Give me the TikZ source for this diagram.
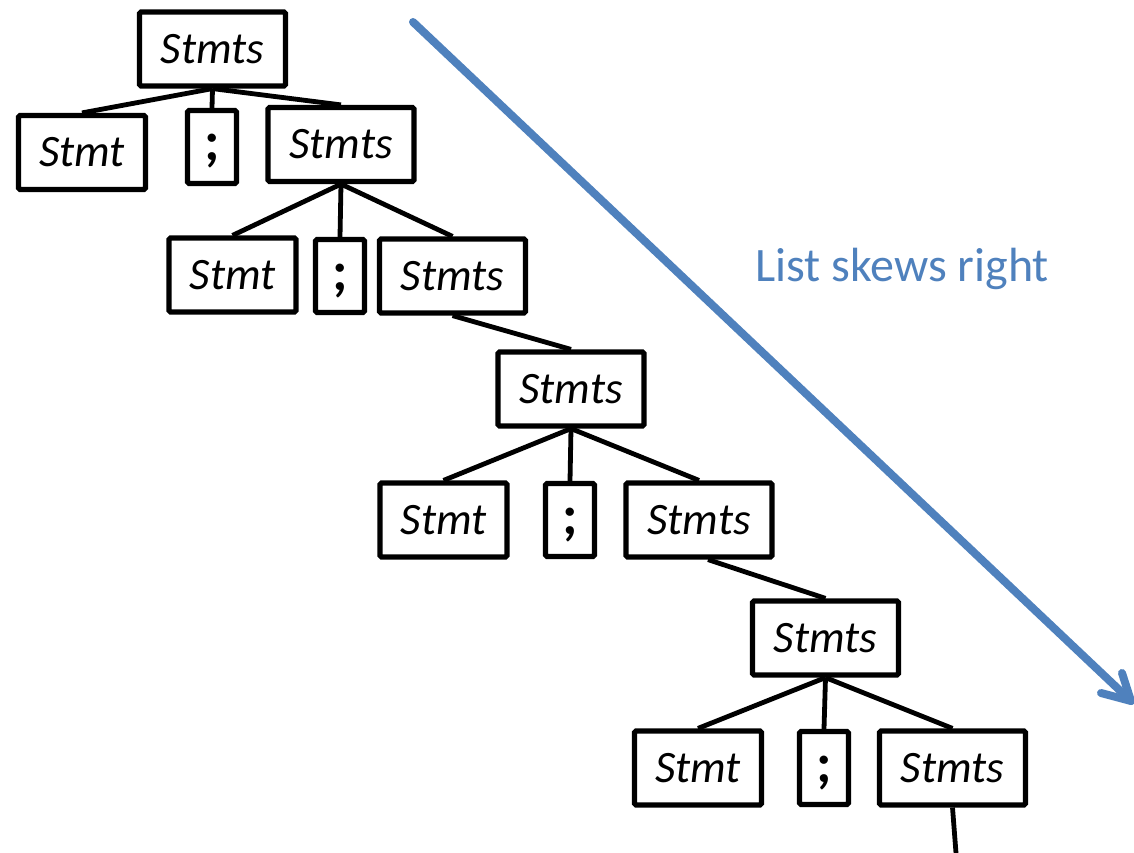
\documentclass[tikz,border=0pt]{standalone}
\usepackage{fontspec}
\setmainfont{Carlito}
\definecolor{skewblue}{HTML}{4F81BD}
\newcommand{\semi}{\raisebox{-14pt}[0pt][0pt]{;}}
\begin{document}
\begin{tikzpicture}[x=1pt,y=-1pt,
  box/.style={draw=black,line width=5.2pt,rounded corners=1.5pt,inner sep=0pt,
              minimum height=74pt,font=\fontsize{45}{45}\selectfont\itshape},
  stmtsbox/.style={box,minimum width=146pt},
  stmtbox/.style={box,minimum width=127pt},
  semibox/.style={box,minimum width=49pt,minimum height=73pt,
                  font=\fontsize{56}{56}\selectfont\bfseries},
  edge/.style={line width=4.8pt},
  skew/.style={draw=skewblue,line width=8pt,line cap=round,line join=round}]
\useasboundingbox (0,0) rectangle (1134,853);

% level 0
\node[stmtsbox] (s0) at (212.5,49) {Stmts};
% level 1
\node[stmtbox]  (t1) at (82,152.5) {Stmt};
\node[semibox]  (c1) at (212,147) {\semi};
\node[stmtsbox] (s1) at (341,144.5) {Stmts};
% level 2
\node[stmtbox]  (t2) at (232.5,275) {Stmt};
\node[semibox]  (c2) at (340,276) {\semi};
\node[stmtsbox] (s2) at (452.5,276) {Stmts};
% level 3
\node[stmtsbox] (s3) at (571,389) {Stmts};
% level 4
\node[stmtbox]  (t4) at (443.5,520) {Stmt};
\node[semibox]  (c4) at (570,520) {\semi};
\node[stmtsbox] (s4) at (699,520) {Stmts};
% level 5
\node[stmtsbox] (s5) at (825.5,638) {Stmts};
% level 6
\node[stmtbox]  (t6) at (698,768) {Stmt};
\node[semibox]  (c6) at (824,768) {\semi};
\node[stmtsbox] (s6) at (952.5,768) {Stmts};
\coordinate (cont) at (956,853);

% tree edges
\foreach \p/\c in {s0/t1,s0/c1,s0/s1,s1/t2,s1/c2,s1/s2,s2/s3,
                   s3/t4,s3/c4,s3/s4,s5/t6,s5/c6,s5/s6}
  \draw[edge] (\p.south) -- (\c.north);
\draw[edge] ([xshift=9pt]s4.south) -- (s5.north);
\draw[edge] (s6.south) -- (cont);

% direction arrow
\coordinate (astart) at (413,22);
\coordinate (atip) at (1131,701);
\coordinate (barbA) at (1122,673);
\coordinate (barbB) at (1101,693);
\draw[skew] (astart) -- (atip);
\draw[skew] (barbA) -- (atip) -- (barbB);
\node[anchor=base west,inner sep=0pt,text=skewblue,
      font=\fontsize{48}{48}\selectfont] (lbl) at (755,281) {List skews right};
\end{tikzpicture}
\end{document}
